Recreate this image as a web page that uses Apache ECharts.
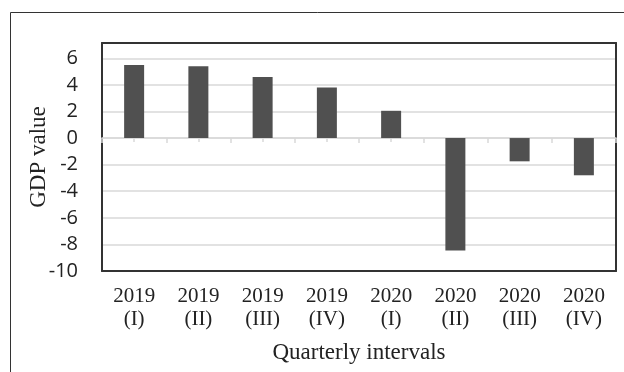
<!DOCTYPE html>
<html>
<head>
<meta charset="utf-8">
<script src="https://cdn.jsdelivr.net/npm/echarts@6/dist/echarts.min.js"></script>
<style>
html, body { margin: 0; padding: 0; background: #fff; }
#view { width: 624px; height: 372px; }
</style>
</head>
<body>
<div id="view"></div>
<script>
var myChart = echarts.init(document.getElementById('view'));

var quarters = ['2019\n(I)', '2019\n(II)', '2019\n(III)', '2019\n(IV)', '2020\n(I)', '2020\n(II)', '2020\n(III)', '2020\n(IV)'];
var gdpValues = [5.5, 5.4, 4.6, 3.8, 2.05, -8.45, -1.75, -2.8];
var yTicks = [-10, -8, -6, -4, -2, 0, 2, 4, 6];

var serif = '"Liberation Serif", "DejaVu Serif", serif';
var sans = '"Open Sans", "Noto Sans", sans-serif';
var frame = { show: true, onZero: false, lineStyle: { color: '#333', width: 2 } };

var option = {
    animation: false,
    backgroundColor: '#fff',
    graphic: [{
        type: 'rect',
        shape: { x: 10.5, y: 12.5, width: 700, height: 400 },
        style: { fill: 'none', stroke: '#333', lineWidth: 1 },
        silent: true
    }],
    grid: {
        left: 102,
        top: 43,
        right: 8,
        bottom: 101
    },
    xAxis: [
        {
            type: 'category',
            data: quarters,
            position: 'bottom',
            axisLine: frame,
            axisTick: { show: false },
            axisLabel: {
                color: '#222',
                fontFamily: serif,
                fontSize: 21,
                lineHeight: 23,
                margin: 14
            },
            name: 'Quarterly intervals',
            nameLocation: 'middle',
            nameGap: 70,
            nameMoveOverlap: false,
            nameTextStyle: { color: '#222', fontFamily: serif, fontSize: 23 }
        },
        {
            type: 'category',
            data: quarters,
            position: 'bottom',
            axisLine: { show: true, onZero: true, lineStyle: { color: '#d9d9d9', width: 1.5 } },
            axisTick: { show: true, length: 5, lineStyle: { color: '#d9d9d9', width: 1.5 } },
            axisLabel: { show: false }
        },
        {
            type: 'category',
            data: quarters,
            position: 'bottom',
            axisLine: { show: false, onZero: true },
            axisTick: { show: true, alignWithLabel: true, length: 4, lineStyle: { color: '#d9d9d9', width: 1.5 } },
            axisLabel: { show: false }
        },
        {
            type: 'category',
            data: quarters,
            position: 'top',
            axisLine: frame,
            axisTick: { show: false },
            axisLabel: { show: false }
        }
    ],
    yAxis: [
        {
            type: 'value',
            min: yTicks[0],
            max: 7.15,
            interval: 2,
            axisLine: frame,
            axisTick: { show: false },
            splitLine: { lineStyle: { color: '#d9d9d9', width: 1.5 } },
            axisLabel: {
                color: '#222',
                fontFamily: sans,
                fontSize: 20,
                margin: 24,
                formatter: function (v) {
                    return yTicks.indexOf(v) !== -1 ? String(v) : '';
                }
            },
            name: 'GDP value',
            nameLocation: 'middle',
            nameGap: 52,
            nameMoveOverlap: false,
            nameTextStyle: { color: '#222', fontFamily: serif, fontSize: 23 }
        },
        {
            type: 'value',
            position: 'right',
            min: yTicks[0],
            max: 7.15,
            axisLine: frame,
            axisTick: { show: false },
            axisLabel: { show: false },
            splitLine: { show: false }
        }
    ],
    series: [{
        type: 'bar',
        xAxisIndex: 0,
        yAxisIndex: 0,
        data: gdpValues,
        barWidth: 20,
        itemStyle: { color: '#505050' },
        z: 1
    }]
};

myChart.setOption(option);
</script>
</body>
</html>
